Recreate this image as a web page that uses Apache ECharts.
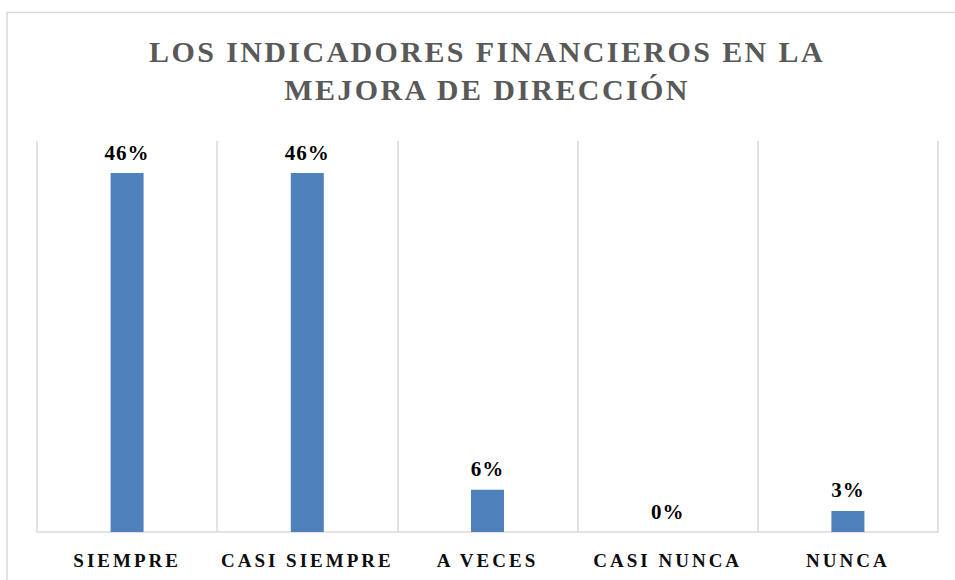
<!DOCTYPE html>
<html>
<head>
<meta charset="utf-8">
<script src="https://cdn.jsdelivr.net/npm/echarts@6/dist/echarts.min.js"></script>
<style>
  html, body { margin: 0; padding: 0; background: #fff; }
  #chart { width: 955px; height: 580px; }
  #chart text { letter-spacing: 3px; }
  #chart text[style*="30px"] { letter-spacing: 2.4px; }
  #chart text[style*="21px"] { letter-spacing: 1px; }
</style>
</head>
<body>
<div id="chart"></div>
<script>
const titleLines = ['LOS INDICADORES FINANCIEROS EN LA', 'MEJORA DE DIRECCIÓN'];
const categories = ['SIEMPRE', 'CASI SIEMPRE', 'A VECES', 'CASI NUNCA', 'NUNCA'];
const values = [0.459, 0.459, 0.054, 0.0, 0.027];
const valueLabels = ['46%', '46%', '6%', '0%', '3%'];

const chart = echarts.init(document.getElementById('chart'), null, { renderer: 'svg' });
chart.setOption({
  animation: false,
  backgroundColor: '#ffffff',
  graphic: [
    {
      type: 'rect', z: -10, silent: true,
      shape: { x: 7, y: 12.5, width: 1200, height: 1000 },
      style: { fill: 'none', stroke: '#d9d9d9', lineWidth: 1.5 }
    },
    {
      type: 'text', x: 487, y: 32,
      style: {
        text: titleLines.join('\n'),
        textAlign: 'center', textVerticalAlign: 'top',
        fontFamily: 'Liberation Serif', fontWeight: 'bold', fontSize: 30,
        lineHeight: 38, fill: '#595959'
      }
    }
  ],
  grid: { left: 37, right: 17, top: 141, bottom: 48 },
  xAxis: {
    type: 'category',
    data: categories,
    axisLine: { show: true, lineStyle: { color: '#d9d9d9', width: 1.5 } },
    axisTick: { show: false },
    splitLine: { show: true, lineStyle: { color: '#d9d9d9', width: 1.5 } },
    axisLabel: {
      color: '#0d0d0d', fontFamily: 'Liberation Serif', fontWeight: 'bold',
      fontSize: 19, margin: 19
    }
  },
  yAxis: {
    type: 'value', min: 0, max: 0.5, show: false,
    splitLine: { show: false }
  },
  series: [{
    type: 'bar',
    data: values,
    barWidth: 33,
    itemStyle: { color: '#4f81bd' },
    label: {
      show: true, position: 'top', distance: 10,
      formatter: p => valueLabels[p.dataIndex],
      color: '#000', fontFamily: 'Liberation Serif', fontWeight: 'bold', fontSize: 21
    }
  }]
});
</script>
</body>
</html>
